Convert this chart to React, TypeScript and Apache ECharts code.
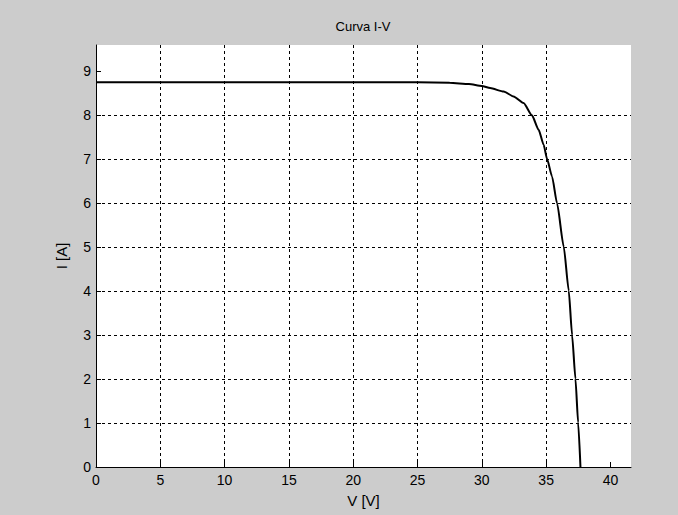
import React, { useEffect, useRef } from "react";
import * as echarts from "echarts";

const TITLE = "Curva I-V";
const X_NAME = "V [V]";
const Y_NAME = "I [A]";
const X_TICKS = [0, 5, 10, 15, 20, 25, 30, 35, 40];
const Y_TICKS = [0, 1, 2, 3, 4, 5, 6, 7, 8, 9];
const VOLTAGE = [0, 5, 10, 15, 20, 25, 27.5, 29, 30, 30.65, 31.7, 32.47, 33.25, 33.9, 34.42, 34.81, 35.07, 35.46, 35.85, 36.37, 36.76, 37.02, 37.28, 37.49, 37.67];
const CURRENT = [8.75, 8.75, 8.75, 8.75, 8.75, 8.75, 8.74, 8.71, 8.67, 8.62, 8.54, 8.43, 8.28, 8.0, 7.67, 7.33, 7.01, 6.61, 6.0, 5.01, 4.01, 3.0, 2.01, 1.01, 0];
const X_MAX = 41.6;
const Y_MAX = 9.6;

export default function App() {
  const ref = useRef<HTMLDivElement>(null);
  useEffect(() => {
    document.body.style.margin = "0";
    const chart = echarts.init(ref.current!, undefined, { renderer: "svg" });
    const font = "'Liberation Sans', Arial, sans-serif";
    const gridLine = { show: true, showMaxLine: false, lineStyle: { color: "#000", type: [3, 3] as any, width: 1 } };
    chart.setOption({
      animation: false,
      backgroundColor: "#cccccc",
      textStyle: { fontFamily: font },
      grid: { left: 96, right: 47, top: 45, bottom: 48, show: true, backgroundColor: "#ffffff", borderWidth: 0 },
      graphic: [
        {
          type: "text",
          x: 363,
          y: 26,
          style: { text: TITLE, fontSize: 13, fontFamily: font, fill: "#000", textAlign: "center", textVerticalAlign: "middle" },
        },
      ],
      xAxis: {
        type: "value",
        min: 0,
        max: X_MAX,
        interval: 5,
        name: X_NAME,
        nameLocation: "middle",
        nameGap: 26,
        nameTextStyle: { fontSize: 15, color: "#000", fontFamily: font },
        axisLine: { show: true, onZero: false, lineStyle: { color: "#000", width: 1 } },
        axisTick: { show: true, inside: true, length: 5, customValues: X_TICKS, lineStyle: { color: "#000" } },
        axisLabel: { customValues: X_TICKS, fontSize: 14, color: "#000", margin: 6, fontFamily: font },
        splitLine: gridLine,
      },
      yAxis: {
        type: "value",
        min: 0,
        max: Y_MAX,
        interval: 1,
        name: Y_NAME,
        nameLocation: "middle",
        nameGap: 27,
        nameTextStyle: { fontSize: 15, color: "#000", fontFamily: font },
        axisLine: { show: true, onZero: false, lineStyle: { color: "#000", width: 1 } },
        axisTick: { show: true, inside: true, length: 5, customValues: Y_TICKS, lineStyle: { color: "#000" } },
        axisLabel: { customValues: Y_TICKS, fontSize: 14, color: "#000", margin: 5, fontFamily: font },
        splitLine: gridLine,
      },
      series: [
        {
          type: "line",
          data: VOLTAGE.map((v, i) => [v, CURRENT[i]]),
          showSymbol: false,
          smooth: 0.2,
          smoothMonotone: "x",
          lineStyle: { color: "#000", width: 2 },
        },
      ],
    });
    return () => chart.dispose();
  }, []);
  return <div ref={ref} style={{ width: 678, height: 515 }} />;
}
